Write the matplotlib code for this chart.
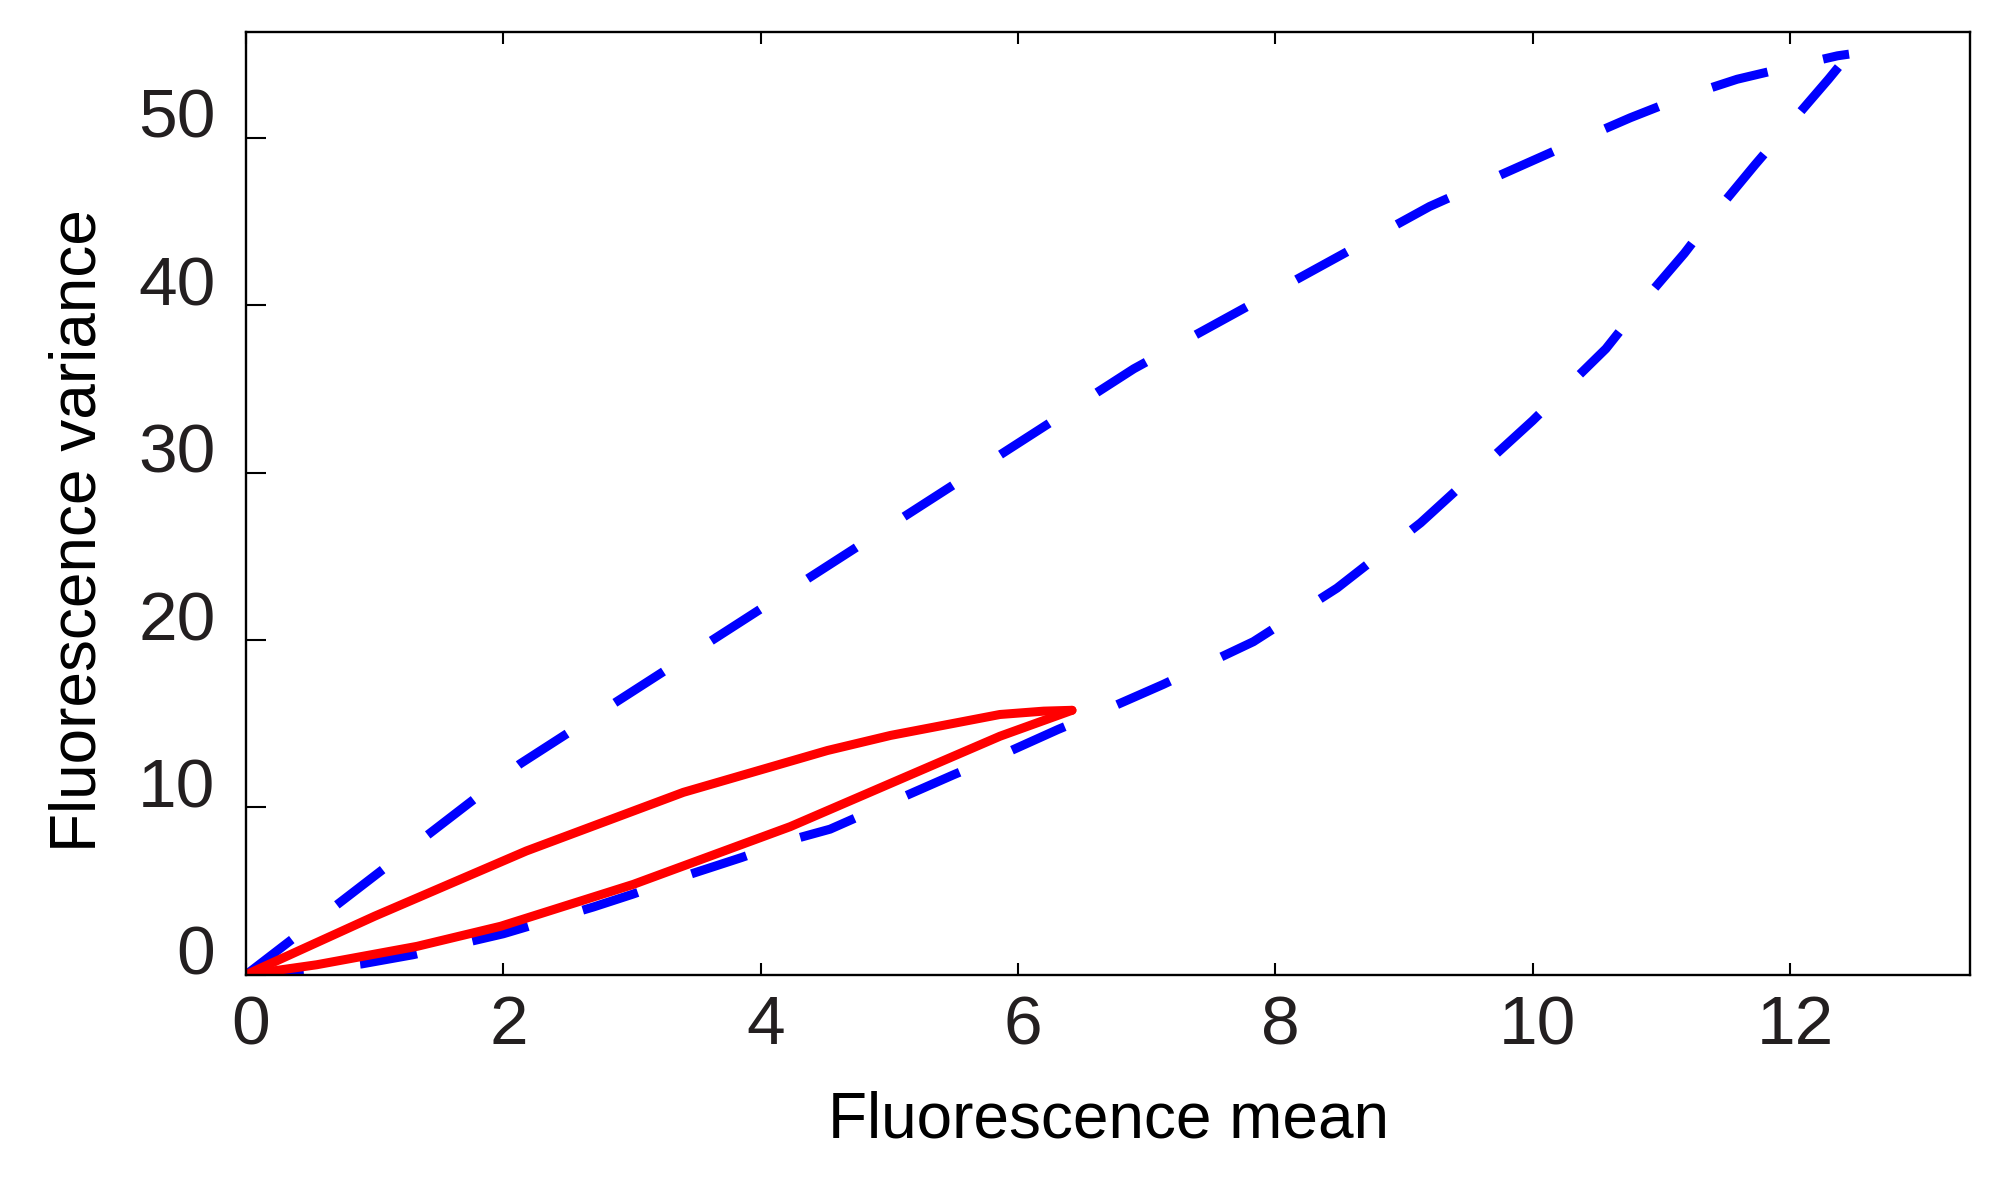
import matplotlib
matplotlib.use("Agg")
from matplotlib import pyplot as plt
from matplotlib.transforms import ScaledTranslation

# upper blue branch (origin -> tip)
blue_up_x = [0, 2.13, 6.9, 9.2, 10.37, 10.76, 11.19, 11.59, 12.03, 12.37, 12.46]
blue_up_y = [0, 12.6, 36.2, 45.9, 49.9, 51.2, 52.5, 53.5, 54.3, 54.9, 55.0]

# lower blue branch (origin -> tip)
blue_lo_x = [0, 0.5, 0.9, 1.3, 2.0, 2.7, 3.0, 3.45, 3.85, 4.28, 4.54, 5.10, 5.50, 5.92,
             6.31, 6.73, 7.13, 7.83, 8.48, 9.13, 10.0, 10.57, 10.89, 11.18, 11.45,
             11.73, 12.02, 12.30, 12.46]
blue_lo_y = [0, 0.3, 0.65, 1.2, 2.45, 4.05, 4.8, 6.0, 7.0, 8.15, 8.7, 10.6, 11.95, 13.3,
             14.65, 16.0, 17.35, 19.9, 23.1, 27.0, 33.1, 37.4, 40.5, 43.1, 45.8,
             48.4, 51.0, 53.5, 55.0]

# red loop
red_up_x = [0, 1.0, 2.18, 3.40, 4.52, 5.01, 5.86, 6.2, 6.42]
red_up_y = [0, 3.5, 7.4, 10.9, 13.4, 14.3, 15.55, 15.75, 15.8]
red_lo_x = [0, 0.55, 1.33, 1.98, 3.01, 4.23, 5.09, 5.86, 6.42]
red_lo_y = [0, 0.6, 1.7, 2.9, 5.4, 8.85, 11.7, 14.25, 15.8]

xticks = [0, 2, 4, 6, 8, 10, 12]
yticks = [0, 10, 20, 30, 40, 50]

plt.rcParams['font.family'] = ['Liberation Sans', 'DejaVu Sans']

fig = plt.figure(figsize=(20, 11.99), dpi=100)
ax = fig.add_axes([0.123, 0.187, 0.862, 0.786])

dash = (0, (6.4, 6.3))
ax.plot(blue_up_x, blue_up_y, color='#0000ff', lw=6.5, linestyle=dash, dash_capstyle='butt')
ax.plot(blue_lo_x, blue_lo_y, color='#0000ff', lw=6.5, linestyle=dash, dash_capstyle='butt')
ax.plot(red_up_x, red_up_y, color='#ff0000', lw=6.5, solid_capstyle='round')
ax.plot(red_lo_x, red_lo_y, color='#ff0000', lw=6.5, solid_capstyle='round')

ax.set_xlim(0, 13.4)
ax.set_ylim(0, 56.3)
ax.set_xticks(xticks)
ax.set_yticks(yticks)

for s in ax.spines.values():
    s.set_linewidth(1.7)
ax.tick_params(axis='both', direction='in', width=1.5, labelsize=50, labelcolor='#231f20')
ax.tick_params(axis='x', length=8.6, top=True, pad=14)
ax.tick_params(axis='y', length=14.4, right=False, pad=22)

# tick labels sit a bit off their ticks in the original
for t in ax.yaxis.get_major_ticks():
    t.label1.set_transform(t.label1.get_transform() + ScaledTranslation(0, 0.25, fig.dpi_scale_trans))
for t in ax.xaxis.get_major_ticks():
    t.label1.set_transform(t.label1.get_transform() + ScaledTranslation(0.05, 0, fig.dpi_scale_trans))

ax.set_xlabel("Fluorescence mean", fontsize=46)
ax.set_ylabel("Fluorescence variance", fontsize=46)
ax.xaxis.set_label_coords(0.5, -0.123)
ax.yaxis.set_label_coords(-0.0795, 0.471)

fig.savefig("out.png", dpi=100)
